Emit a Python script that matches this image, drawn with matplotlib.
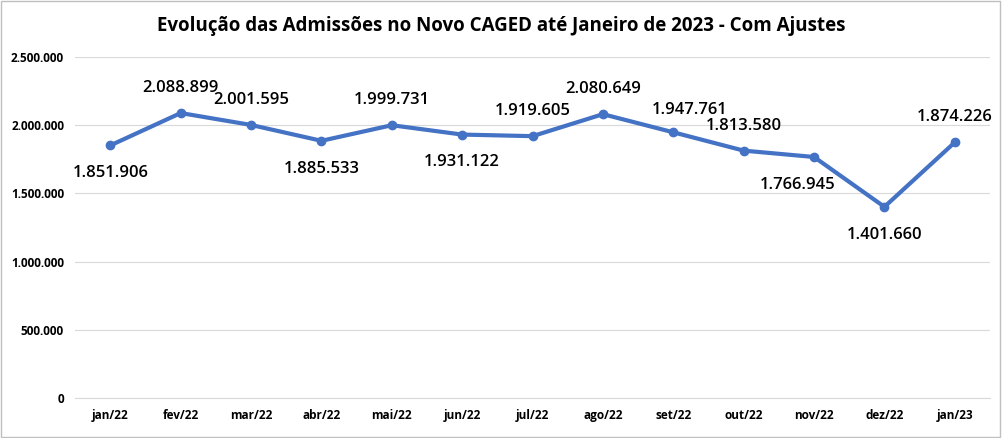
import matplotlib
matplotlib.use("Agg")
import matplotlib.pyplot as plt
from matplotlib.patches import Rectangle

# dados
meses = ["jan/22", "fev/22", "mar/22", "abr/22", "mai/22", "jun/22", "jul/22",
         "ago/22", "set/22", "out/22", "nov/22", "dez/22", "jan/23"]
admissoes = [1851906, 2088899, 2001595, 1885533, 1999731, 1931122, 1919605,
             2080649, 1947761, 1813580, 1766945, 1401660, 1874226]
rotulos = ["1.851.906", "2.088.899", "2.001.595", "1.885.533", "1.999.731",
           "1.931.122", "1.919.605", "2.080.649", "1.947.761", "1.813.580",
           "1.766.945", "1.401.660", "1.874.226"]
yticks = [0, 500000, 1000000, 1500000, 2000000, 2500000]
ytick_labels = ["0", "500.000", "1.000.000", "1.500.000", "2.000.000", "2.500.000"]

# posicao dos rotulos (deslocamento em pontos)
offsets = [(0, -20), (0, 18), (0, 18), (0, -20), (0, 18), (0, -20), (0, 18),
           (0, 18), (12, 16), (0, 18), (-12, -20), (0, -20), (0, 18)]

plt.rcParams["font.family"] = "Open Sans"
fig = plt.figure(figsize=(10.02, 4.38), dpi=100)
fig.patches.append(Rectangle((0.001, 0.002), 0.997, 0.995, transform=fig.transFigure,
                             fill=False, edgecolor="#bfbfbf", linewidth=1))
ax = fig.add_axes([0.075, 0.091, 0.913, 0.779])

x = list(range(len(meses)))
ax.plot(x, admissoes, color="#4472c4", linewidth=3, marker="o", markersize=6)
for i, v in enumerate(admissoes):
    ax.annotate(rotulos[i], (i, v), xytext=offsets[i], textcoords="offset points",
                ha="center", va="center", fontsize=12, fontweight="semibold",
                color="#000000")

ax.set_ylim(0, 2500000)
ax.set_xlim(-0.5, len(meses) - 0.5)
ax.set_yticks(yticks)
ax.set_yticklabels(ytick_labels, fontsize=8.5, fontweight="bold")
ax.set_xticks(x)
ax.set_xticklabels(meses, fontsize=8.5, fontweight="bold")
ax.grid(axis="y", color="#d9d9d9", linewidth=0.8)
ax.set_axisbelow(True)
for s in ["top", "right", "left"]:
    ax.spines[s].set_visible(False)
ax.spines["bottom"].set_color("#d9d9d9")
ax.tick_params(length=0, pad=8)

fig.text(0.5, 0.94, "Evolução das Admissões no Novo CAGED até Janeiro de 2023 - Com Ajustes",
         ha="center", va="center", fontsize=13.5, fontweight="bold")

fig.savefig("out.png", dpi=100)
